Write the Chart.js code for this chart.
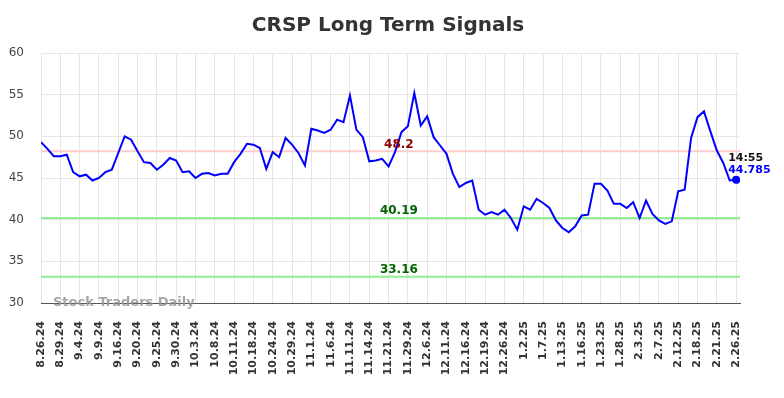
<!DOCTYPE html>
<html><head><meta charset="utf-8">
<script src="https://cdn.jsdelivr.net/npm/chart.js@4/dist/chart.umd.min.js"></script>
<style>html,body{margin:0;padding:0;background:#fff;overflow:hidden}</style>
</head><body>
<canvas id="c" width="784" height="398"></canvas>
<script>
const tickLabels = ['8.26.24','8.29.24','9.4.24','9.9.24','9.16.24','9.20.24','9.25.24','9.30.24','10.3.24','10.8.24','10.11.24','10.18.24','10.24.24','10.29.24','11.1.24','11.6.24','11.11.24','11.14.24','11.21.24','11.29.24','12.6.24','12.11.24','12.16.24','12.19.24','12.26.24','1.2.25','1.7.25','1.13.25','1.16.25','1.23.25','1.28.25','2.3.25','2.7.25','2.12.25','2.18.25','2.21.25','2.26.25'];
const pointsPerTick = 3;
const values = [49.3,48.5,47.6,47.6,47.8,45.7,45.2,45.4,44.7,45.0,
45.7,46.0,48.0,50.0,49.6,48.2,46.9,46.8,46.0,46.6,
47.4,47.1,45.7,45.8,45.0,45.5,45.6,45.3,45.5,45.5,
46.9,47.9,49.1,49.0,48.6,46.1,48.1,47.5,49.8,49.0,
48.0,46.5,50.9,50.7,50.4,50.8,52.0,51.7,54.9,50.8,
49.9,47.0,47.1,47.3,46.4,48.1,50.5,51.2,55.2,51.3,
52.4,49.9,48.9,47.9,45.5,43.9,44.4,44.7,41.2,40.6,
40.9,40.6,41.2,40.2,38.8,41.6,41.2,42.5,42.0,41.4,
39.9,39.0,38.5,39.2,40.5,40.6,44.3,44.3,43.5,41.9,
41.9,41.4,42.1,40.2,42.3,40.7,39.9,39.5,39.8,43.4,
43.6,49.8,52.3,53.0,50.6,48.3,46.8,44.7,44.785];
const resistanceLevel = 48.2;
const supportLevels = [40.19, 33.16];
const lastTime = '14:55';
const lastValueText = '44.785';
const titleText = 'CRSP Long Term Signals';
const watermark = 'Stock Traders Daily';

const FONT = '"DejaVu Sans", sans-serif';
const xMax = values.length - 1 + 0.6;
const lastIdx = values.length - 1;
const series = values.map((v, i) => ({x: i, y: v}));
const hline = v => [{x: 0, y: v}, {x: xMax, y: v}];

const textPlugin = {
  id: 'texts',
  afterDraw(chart) {
    const {ctx, scales: {x, y}} = chart;
    ctx.save();
    ctx.fillStyle = '#333';
    ctx.font = 'bold 20px ' + FONT;
    ctx.textAlign = 'center';
    ctx.textBaseline = 'middle';
    ctx.fillText(titleText, 388, 26);

    const lx = x.getPixelForValue(55.6);
    ctx.textBaseline = 'alphabetic';
    ctx.font = 'bold 12px ' + FONT;
    ctx.fillStyle = '#8b0000';
    ctx.fillText(String(resistanceLevel), lx, y.getPixelForValue(resistanceLevel) - 3);
    ctx.fillStyle = '#006400';
    supportLevels.forEach(s => ctx.fillText(s.toFixed(2), lx, y.getPixelForValue(s) - 4));

    const px = x.getPixelForValue(lastIdx), py = y.getPixelForValue(values[lastIdx]);
    ctx.textAlign = 'left';
    ctx.font = 'bold 11px ' + FONT;
    ctx.fillStyle = '#111';
    ctx.fillText(lastTime, px - 8, py - 19);
    ctx.fillStyle = '#0000ff';
    ctx.fillText(lastValueText, px - 8, py - 6.5);

    ctx.font = 'bold 13px ' + FONT;
    ctx.fillStyle = 'rgba(150,150,150,0.85)';
    ctx.textBaseline = 'middle';
    ctx.fillText(watermark, 53, y.getPixelForValue(30) - 0.5);
    ctx.restore();
  }
};

new Chart(document.getElementById('c'), {
  type: 'line',
  data: {
    datasets: [
      {data: series, borderColor: '#0000ff', borderWidth: 2, tension: 0,
       pointRadius: ctx => ctx.dataIndex === lastIdx ? 4 : 0,
       pointBackgroundColor: '#0000ff', pointBorderWidth: 0},
      {data: hline(resistanceLevel), borderColor: '#ffcccc', borderWidth: 2, pointRadius: 0},
      {data: hline(supportLevels[0]), borderColor: '#90ee90', borderWidth: 2, pointRadius: 0},
      {data: hline(supportLevels[1]), borderColor: '#90ee90', borderWidth: 2, pointRadius: 0}
    ]
  },
  options: {
    responsive: false,
    animation: false,
    devicePixelRatio: 1,
    layout: {padding: {top: 53, right: 44, bottom: 0, left: 0}},
    plugins: {legend: {display: false}, tooltip: {enabled: false}, title: {display: false}},
    scales: {
      x: {
        type: 'linear', min: 0, max: xMax, bounds: 'data',
        afterFit: s => { s.height = 95; },
        border: {display: true, color: '#555', width: 1},
        grid: {color: c => (c.tick && c.tick.value % pointsPerTick === 0) ? '#e6e6e6' : 'rgba(0,0,0,0)', drawTicks: false},
        ticks: {
          stepSize: pointsPerTick, autoSkip: false, includeBounds: false,
          minRotation: 90, maxRotation: 90, padding: 18,
          color: '#333', font: {family: FONT, size: 11, weight: 'bold'},
          callback: v => (v % pointsPerTick === 0) ? tickLabels[v / pointsPerTick] : null
        }
      },
      y: {
        min: 30, max: 60,
        afterFit: s => { s.width = 41; },
        border: {display: false},
        grid: {color: '#e6e6e6', drawTicks: false},
        ticks: {stepSize: 5, padding: 17, color: '#444', font: {family: FONT, size: 12}}
      }
    }
  },
  plugins: [textPlugin]
});
</script>
</body></html>
